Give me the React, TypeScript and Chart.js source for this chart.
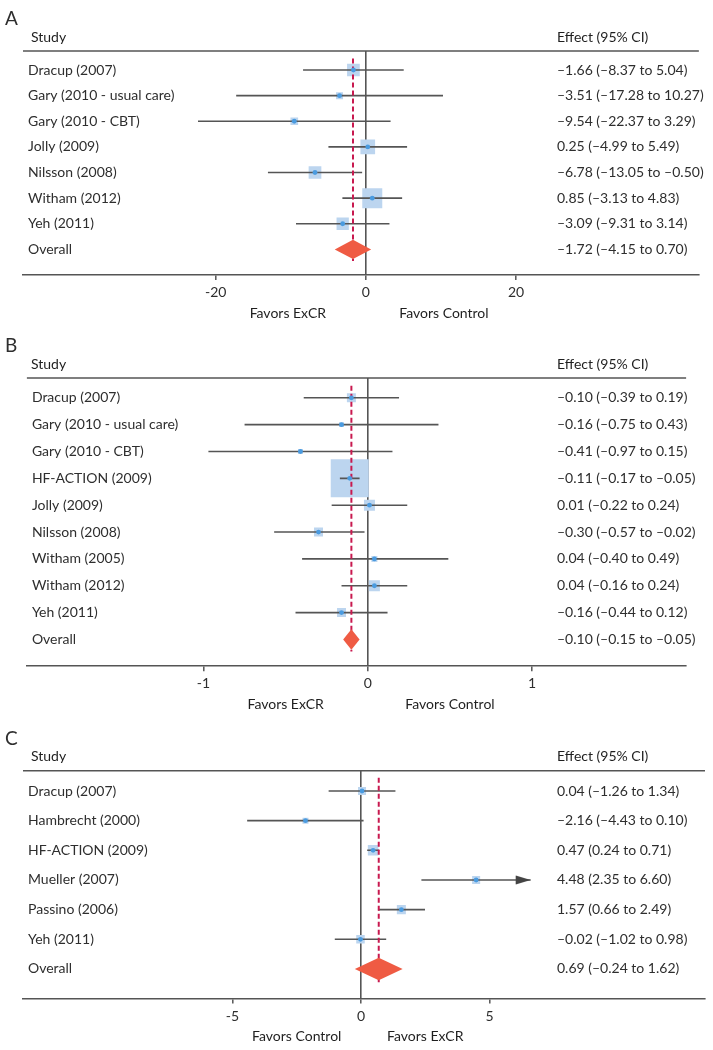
import React, { useEffect, useRef } from 'react';
import { Chart, registerables } from 'chart.js';

Chart.register(...registerables);

// ---------- Panel A ----------
const studiesA = ['Dracup (2007)', 'Gary (2010 - usual care)', 'Gary (2010 - CBT)', 'Jolly (2009)', 'Nilsson (2008)', 'Witham (2012)', 'Yeh (2011)'];
const estA = [-1.66, -3.51, -9.54, 0.25, -6.78, 0.85, -3.09];
const lowA = [-8.37, -17.28, -22.37, -4.99, -13.05, -3.13, -9.31];
const highA = [5.04, 10.27, 3.29, 5.49, -0.5, 4.83, 3.14];
const weightsA = [13.5, 4.1, 4.9, 18.0, 13.5, 33.4, 12.6];
const overallA = [-1.72, -4.15, 0.7];
const ticksA = [-20, 0, 20];
const favorsA = ['Favors ExCR', 'Favors Control'];

// ---------- Panel B ----------
const studiesB = ['Dracup (2007)', 'Gary (2010 - usual care)', 'Gary (2010 - CBT)', 'HF-ACTION (2009)', 'Jolly (2009)', 'Nilsson (2008)', 'Witham (2005)', 'Witham (2012)', 'Yeh (2011)'];
const estB = [-0.1, -0.16, -0.41, -0.11, 0.01, -0.3, 0.04, 0.04, -0.16];
const lowB = [-0.39, -0.75, -0.97, -0.17, -0.22, -0.57, -0.4, -0.16, -0.44];
const highB = [0.19, 0.43, 0.15, -0.05, 0.24, -0.02, 0.49, 0.24, 0.12];
const weightsB = [4.0, 1.2, 1.2, 71.7, 6.0, 4.0, 1.8, 6.0, 4.0];
const overallB = [-0.1, -0.15, -0.05];
const ticksB = [-1, 0, 1];
const favorsB = ['Favors ExCR', 'Favors Control'];

// ---------- Panel C ----------
const studiesC = ['Dracup (2007)', 'Hambrecht (2000)', 'HF-ACTION (2009)', 'Mueller (2007)', 'Passino (2006)', 'Yeh (2011)'];
const estC = [0.04, -2.16, 0.47, 4.48, 1.57, -0.02];
const lowC = [-1.26, -4.43, 0.24, 2.35, 0.66, -1.02];
const highC = [1.34, 0.1, 0.71, 6.6, 2.49, 0.98];
const weightsC = [15.0, 8.4, 25.8, 15.0, 19.0, 16.9];
const arrowsC = [false, false, false, true, false, false];
const overallC = [0.69, -0.24, 1.62];
const ticksC = [-5, 0, 5];
const favorsC = ['Favors Control', 'Favors ExCR'];

const FONT = 'Lato, "Noto Sans", sans-serif';
const TEXT = '#2e2e2e';
const LINE = '#555555';
const BOX = '#bcd5ef';
const DOT = '#4a9be0';
const RED = '#c8194f';
const ORANGE = '#ef5b43';

type Panel = {
  letter: string; studies: string[]; est: number[]; low: number[]; high: number[];
  weights: number[]; overall: number[]; ticks: number[]; favors: string[]; favorsAt: number[];
  arrows: boolean[] | null;
  top: number; height: number; header: number; axis: number;
  xMin: number; xMax: number; yMin: number; boxScale: number;
};

const panels: Panel[] = [
  { letter: 'A', studies: studiesA, est: estA, low: lowA, high: highA, weights: weightsA, overall: overallA,
    ticks: ticksA, favors: favorsA, favorsAt: [-10.4, 10.4], arrows: null,
    top: 0, height: 325, header: 51, axis: 275, xMin: -45.68, xMax: 44.36, yMin: 0.258, boxScale: 3.46 },
  { letter: 'B', studies: studiesB, est: estB, low: lowB, high: highB, weights: weightsB, overall: overallB,
    ticks: ticksB, favors: favorsB, favorsAt: [-0.5, 0.5], arrows: null,
    top: 325, height: 395, header: 378, axis: 666.3, xMin: -2.0747, xMax: 1.937, yMin: 0.263, boxScale: 4.49 },
  { letter: 'C', studies: studiesC, est: estC, low: lowC, high: highC, weights: weightsC, overall: overallC,
    ticks: ticksC, favors: favorsC, favorsAt: [-2.5, 2.5], arrows: arrowsC,
    top: 720, height: 330, header: 770.7, axis: 998.6, xMin: -13.152, xMax: 13.385, yMin: 0.315, boxScale: 2.07 },
];

const fmt = (v: number) => (v < 0 ? '\u2013' : '') + Math.abs(v).toFixed(2);
const effectText = (e: number, l: number, h: number) => `${fmt(e)} (${fmt(l)} to ${fmt(h)})`;

function makeArrow(): HTMLCanvasElement {
  const c = document.createElement('canvas');
  c.width = 32; c.height = 10;
  const g = c.getContext('2d')!;
  g.fillStyle = '#444444';
  g.beginPath();
  g.moveTo(16, 5);
  g.lineTo(1, 0.5);
  g.lineTo(1, 9.5);
  g.closePath();
  g.fill();
  return c;
}

function makeTextPlugin(p: Panel) {
  return {
    id: 'forestText' + p.letter,
    afterDraw(chart: any) {
      const ctx = chart.ctx as CanvasRenderingContext2D;
      const { left, right, top, bottom } = chart.chartArea;
      const ys = chart.scales.y;
      const xs = chart.scales.x;
      ctx.save();
      ctx.strokeStyle = LINE;
      ctx.lineWidth = 1.6;
      ctx.beginPath();
      ctx.moveTo(left, top);
      ctx.lineTo(right, top);
      ctx.stroke();
      ctx.fillStyle = TEXT;
      ctx.textBaseline = 'middle';
      ctx.textAlign = 'left';
      ctx.font = `19px ${FONT}`;
      ctx.fillText(p.letter, 5, top - 32);
      ctx.font = `14px ${FONT}`;
      ctx.fillStyle = '#1f1f1f';
      ctx.fillText('Study', 31, top - 14);
      ctx.fillText('Effect (95% CI)', 557, top - 14);
      ctx.fillStyle = TEXT;
      p.est.forEach((e, i) => {
        ctx.fillText(effectText(e, p.low[i], p.high[i]), 557, ys.getPixelForValue(i + 1));
      });
      ctx.fillText(effectText(p.overall[0], p.overall[1], p.overall[2]), 557, ys.getPixelForValue(p.est.length + 1));
      ctx.textAlign = 'center';
      ctx.fillStyle = '#1f1f1f';
      ctx.fillText(p.favors[0], xs.getPixelForValue(p.favorsAt[0]), bottom + 38);
      ctx.fillText(p.favors[1], xs.getPixelForValue(p.favorsAt[1]), bottom + 38);
      ctx.restore();
    },
  };
}

function ForestPanel({ p }: { p: Panel }) {
  const ref = useRef<HTMLCanvasElement | null>(null);
  useEffect(() => {
    if (!ref.current) return;
    const n = p.studies.length;
    const labels = [...p.studies, 'Overall'];
    const ciPts: any[] = [];
    p.est.forEach((_, i) => {
      ciPts.push({ x: p.low[i], y: i + 1 }, { x: p.high[i], y: i + 1 }, { x: p.high[i], y: null });
    });
    const boxPts = p.est.map((e, i) => ({ x: e, y: i + 1 }));
    const boxR = p.weights.map((w) => (Math.sqrt(w) * p.boxScale) / Math.SQRT2);
    const oy = n + 1;
    const dh = 0.38;
    const [oe, ol, oh] = p.overall;
    const diamond = [
      { x: ol, y: oy }, { x: oe, y: oy - dh }, { x: oh, y: oy }, { x: oe, y: oy + dh }, { x: ol, y: oy },
    ];
    const dashed = [{ x: oe, y: 0.55 }, { x: oe, y: oy + 0.45 }];
    const datasets: any[] = [
      { type: 'scatter', data: boxPts, order: 5, pointStyle: 'rect', pointRadius: boxR, pointHoverRadius: boxR,
        backgroundColor: BOX, borderWidth: 0 },
      { type: 'line', data: ciPts, order: 4, borderColor: LINE, borderWidth: 1.6, pointRadius: 0, fill: false, spanGaps: false },
      { type: 'line', data: dashed, order: 3, borderColor: RED, borderWidth: 2, borderDash: [5, 3], pointRadius: 0, fill: false },
      { type: 'line', data: diamond, order: 2, borderWidth: 0, borderColor: ORANGE, backgroundColor: ORANGE, fill: 'shape', pointRadius: 0 },
      { type: 'scatter', data: boxPts, order: 1, pointStyle: 'circle', pointRadius: 2.4, backgroundColor: DOT, borderWidth: 0 },
    ];
    if (p.arrows) {
      const img = makeArrow();
      const arrowPts = p.high.map((h, i) => ({ x: h, y: i + 1 })).filter((_, i) => p.arrows![i]);
      datasets.push({ type: 'scatter', data: arrowPts, order: 0, pointStyle: img, pointRadius: 5 });
    }
    const chart = new Chart(ref.current, {
      type: 'scatter',
      data: { datasets },
      plugins: [makeTextPlugin(p)],
      options: {
        animation: false,
        responsive: false,
        events: [],
        layout: { padding: { left: 23, right: 8, top: p.header - p.top, bottom: 0 } },
        plugins: { legend: { display: false }, tooltip: { enabled: false } },
        scales: {
          x: {
            type: 'linear', position: 'bottom', min: p.xMin, max: p.xMax,
            afterBuildTicks: (s: any) => { s.ticks = p.ticks.map((v) => ({ value: v })); },
            afterFit: (s: any) => { s.height = p.top + p.height - p.axis; },
            ticks: { autoSkip: false, padding: 4, color: TEXT, font: { family: FONT, size: 14 }, callback: (v: any) => String(v) },
            grid: {
              color: (c: any) => (c.tick && c.tick.value === 0 ? LINE : 'rgba(0,0,0,0)'),
              lineWidth: 1.6, tickColor: LINE, tickLength: 5, tickWidth: 1.5,
            },
            border: { display: true, color: LINE, width: 1.6 },
          },
          y: {
            type: 'linear', position: 'left', reverse: true, min: p.yMin, max: n + 2,
            afterBuildTicks: (s: any) => { s.ticks = labels.map((_, i) => ({ value: i + 1 })); },
            afterFit: (s: any) => { s.width = 0; },
            ticks: { mirror: true, padding: 5, autoSkip: false, color: TEXT, font: { family: FONT, size: 14 },
              callback: (v: any) => labels[Math.round(v) - 1] ?? '' },
            grid: { display: false },
            border: { display: false },
          },
        },
      } as any,
    });
    return () => chart.destroy();
  }, [p]);
  return (
    <canvas ref={ref} width={713} height={p.height}
      style={{ position: 'absolute', left: 0, top: p.top, width: 713, height: p.height, display: 'block' }} />
  );
}

export default function App() {
  return (
    <div style={{ position: 'absolute', left: 0, top: 0, width: 713, height: 1050, background: '#ffffff' }}>
      {panels.map((p) => <ForestPanel key={p.letter} p={p} />)}
    </div>
  );
}
